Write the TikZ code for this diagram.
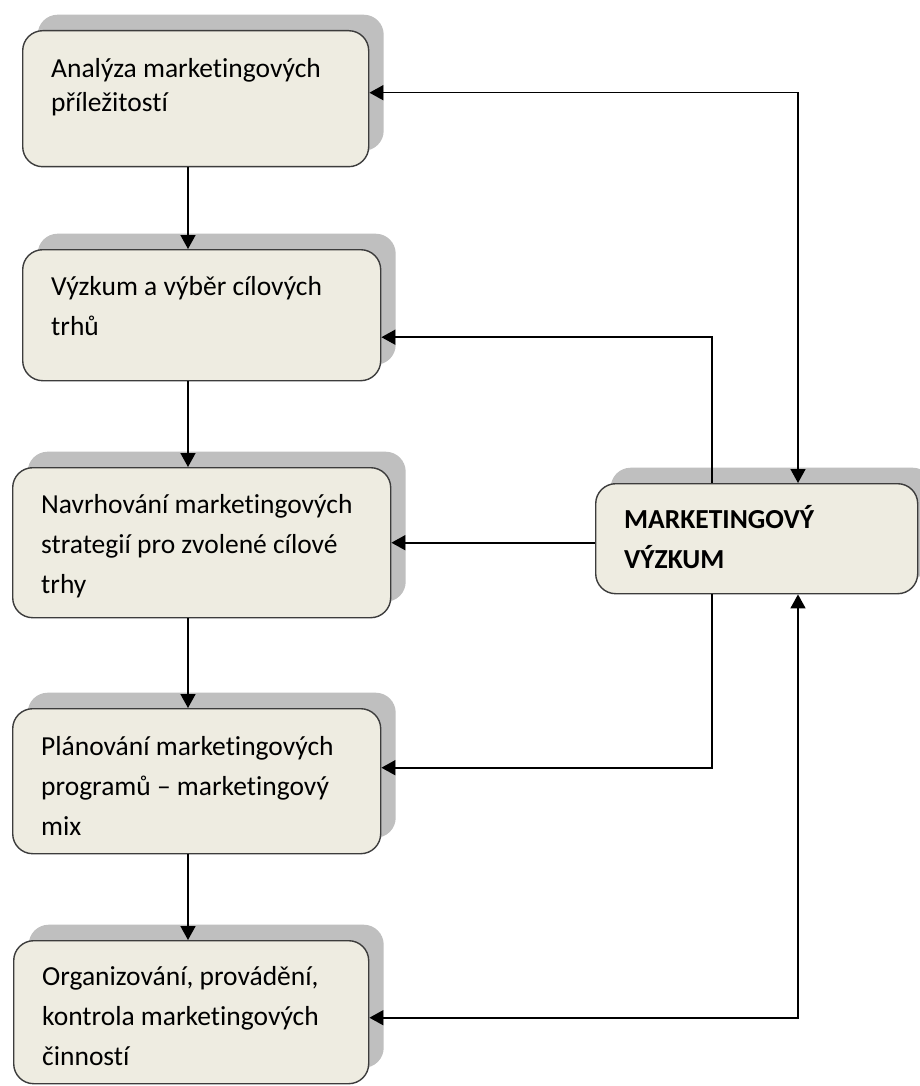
\documentclass[tikz,border=0pt]{standalone}
\usepackage{fontspec}
\setmainfont{Carlito}[Ligatures={TeX,NoCommon}]
\usetikzlibrary{arrows.meta,shadows}
\definecolor{boxfill}{RGB}{238,236,225}
\definecolor{boxline}{RGB}{60,60,60}
\tikzset{
  flowarrow/.style={-{Triangle[length=14pt,width=15pt]}, line width=1.6pt},
  botharrow/.style={{Triangle[length=14pt,width=15pt]}-{Triangle[length=14pt,width=15pt]}, line width=1.6pt},
  stagebox/.style={draw=boxline, line width=1.4pt, rounded corners=20pt, fill=boxfill, anchor=north west, align=flush left, inner xsep=28.5pt, inner ysep=0pt, font=\fontsize{27.5}{40}\selectfont, drop shadow={shadow xshift=15pt, shadow yshift=16pt, opacity=1, fill=black!25}},
  researchbox/.style={stagebox, font=\fontsize{27.5}{40}\selectfont\bfseries}
}

\begin{document}
\begin{tikzpicture}[x=1pt, y=-1pt]
  \useasboundingbox (0,0) rectangle (920,1086);
  % process steps
  \node[stagebox, text width=289pt, text height=46.7pt, text depth=89.3pt, font=\fontsize{27.5}{34}\selectfont] (b1) at (22,30) {Analýza marketingových\\příležitostí};
  \node[stagebox, text width=301pt, text height=46pt, text depth=85pt] (b2) at (22,249) {Výzkum a výběr cílových\\trhů};
  \node[stagebox, text width=321pt, text height=45.3pt, text depth=104.7pt] (b3) at (12,467) {Navrhování marketingových\\strategií pro zvolené cílové\\trhy};
  \node[stagebox, text width=311pt, text height=47pt, text depth=98pt] (b4) at (12,708) {Plánování marketingových\\programů – marketingový\\mix};
  \node[stagebox, text width=298pt, text height=45pt, text depth=98pt] (b5) at (13,940) {Organizování, provádění,\\kontrola marketingových\\činností};
  \node[researchbox, text width=265pt, text height=44.3pt, text depth=65.7pt] (mv) at (595,483) {MARKETINGOVÝ\\VÝZKUM};

  \coordinate (spine) at (188,0);
  \coordinate (inx) at (712,0);
  \coordinate (outx) at (798,0);

  % main flow
  \draw[flowarrow] (b1.south -| spine) -- (b2.north -| spine);
  \draw[flowarrow] (b2.south -| spine) -- (b3.north -| spine);
  \draw[flowarrow] (b3.south -| spine) -- (b4.north -| spine);
  \draw[flowarrow] (b4.south -| spine) -- (b5.north -| spine);

  % research links
  \draw[flowarrow] (mv.north -| inx) |- ([yshift=-22pt]b2.east);
  \draw[flowarrow] (mv.west |- b3.east) -- (b3.east);
  \draw[flowarrow] (mv.south -| inx) |- ([yshift=13.5pt]b4.east);
  \draw[botharrow] ([yshift=6pt]b1.east) -| (mv.north -| outx);
  \draw[botharrow] ([yshift=-5.5pt]b5.east) -| (mv.south -| outx);
\end{tikzpicture}
\end{document}
